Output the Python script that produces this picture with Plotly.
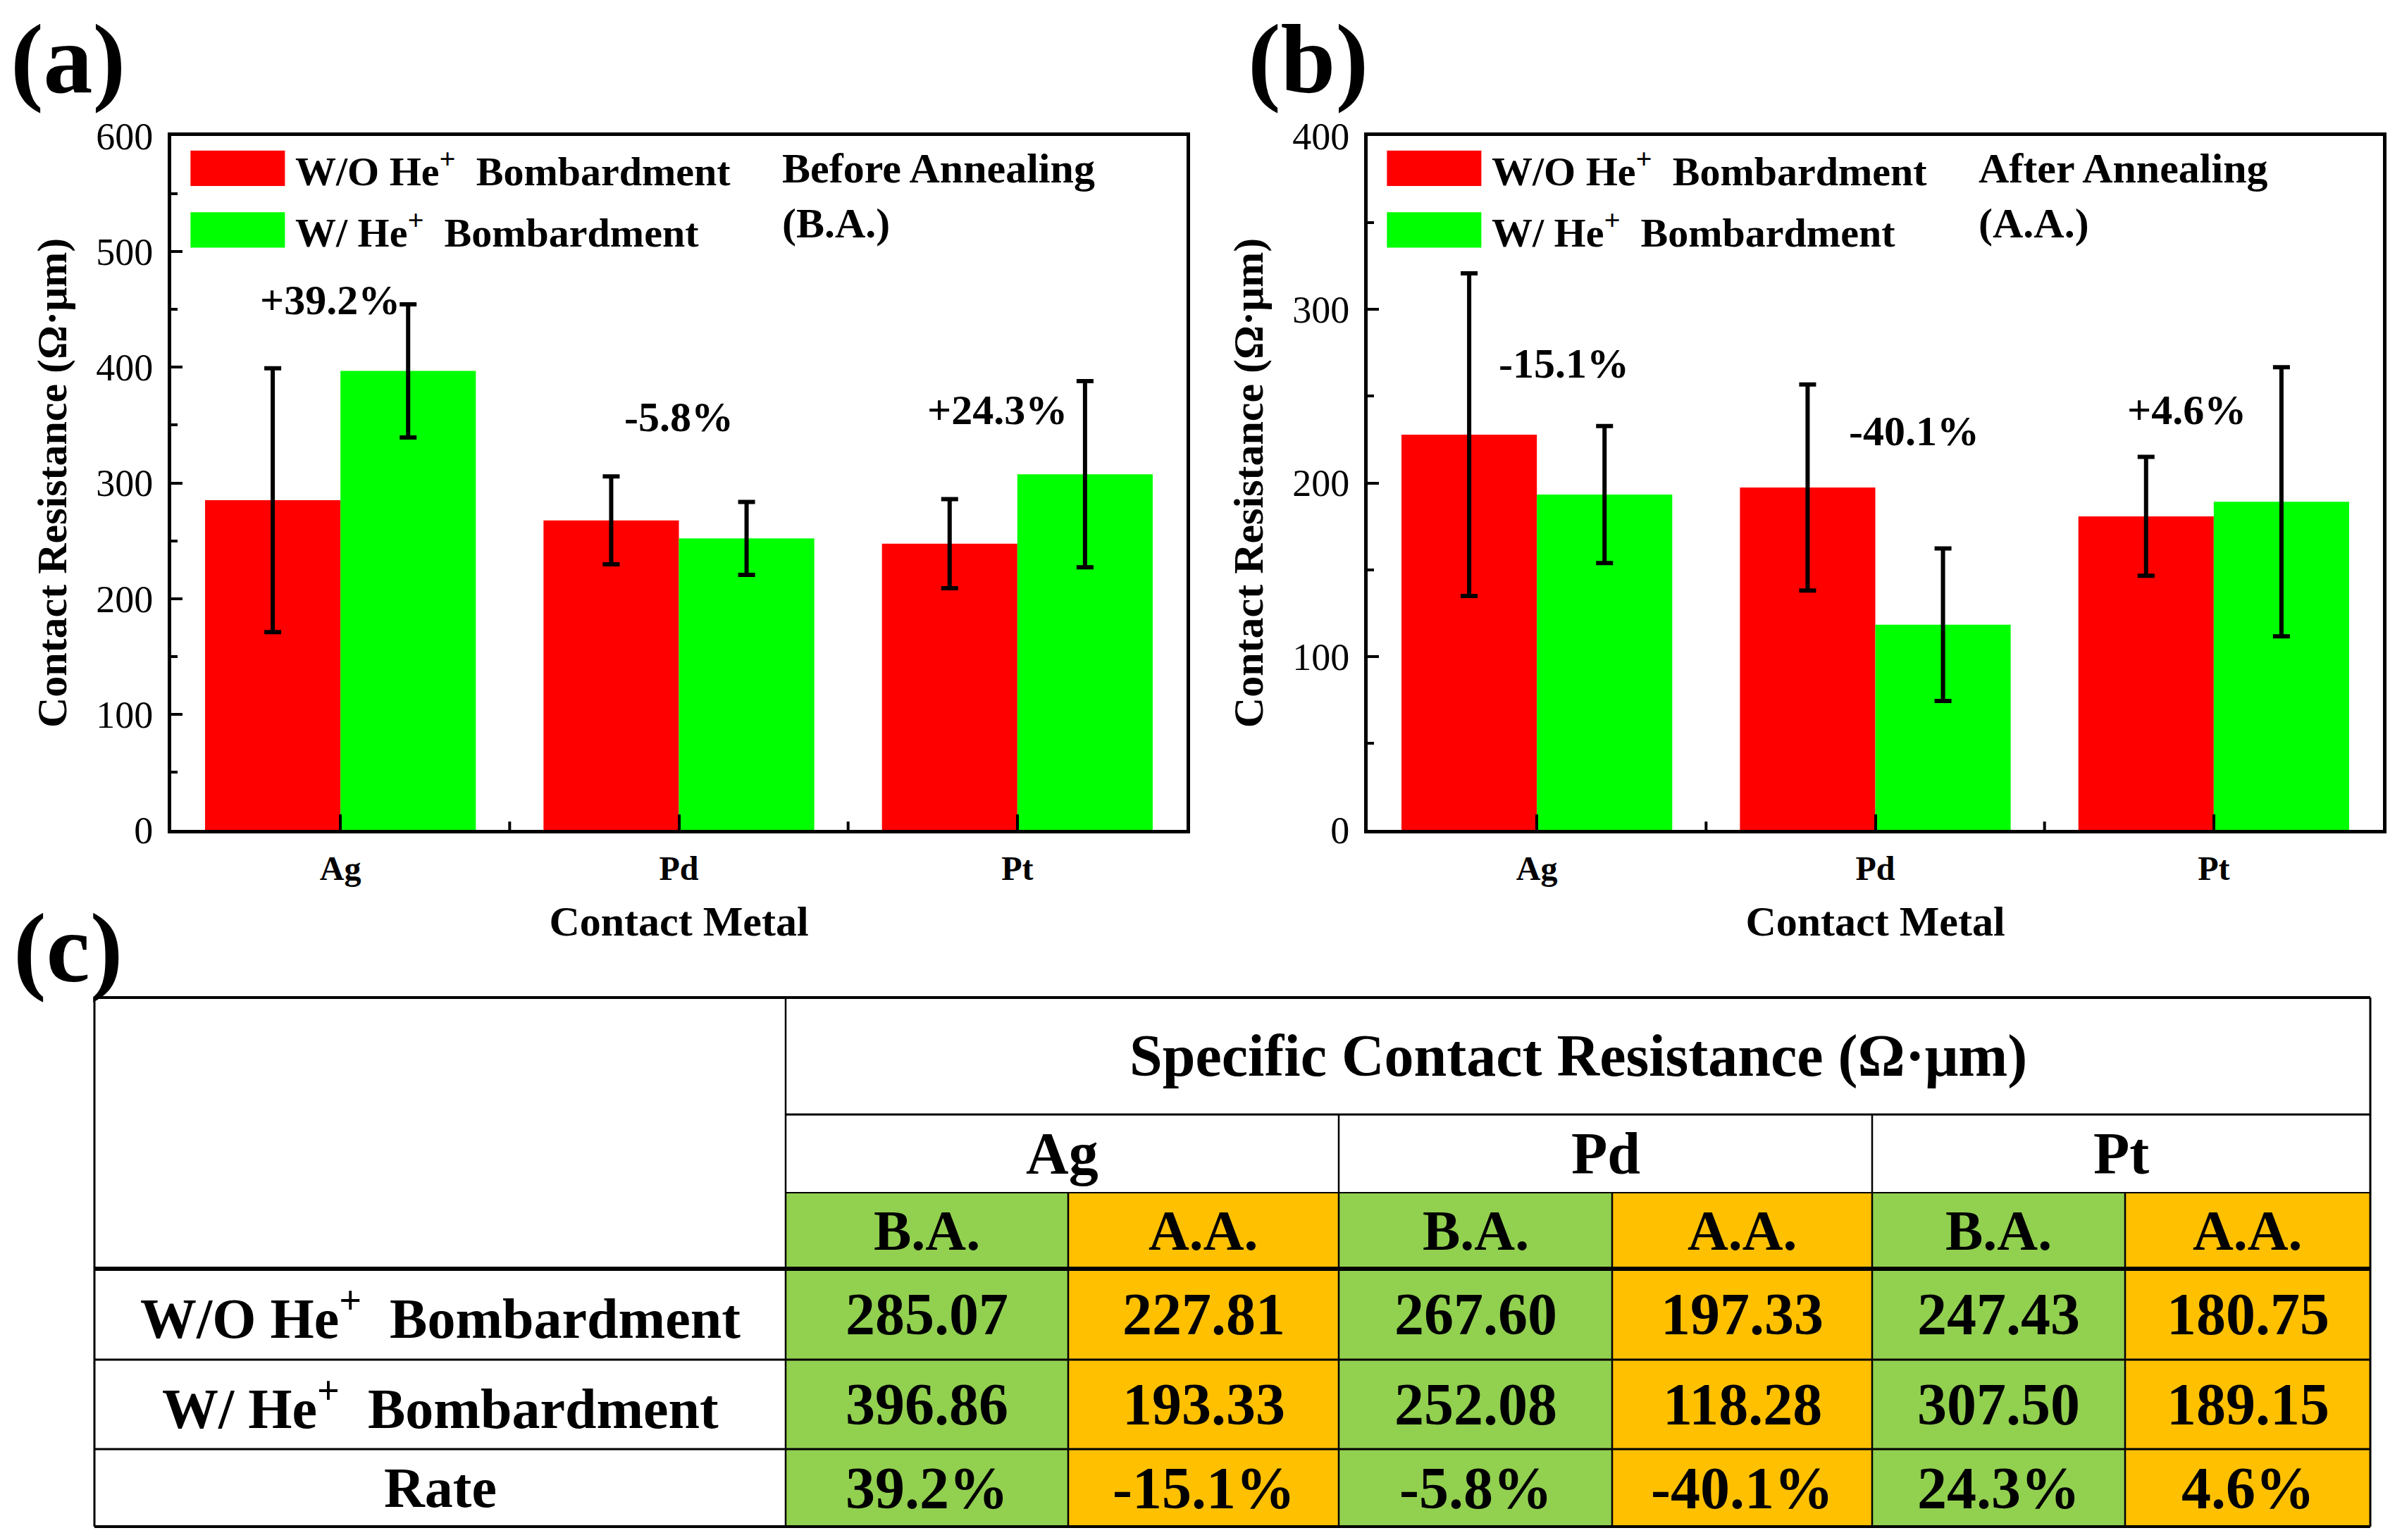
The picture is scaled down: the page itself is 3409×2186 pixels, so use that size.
import plotly.graph_objects as go

metals = ["Ag", "Pd", "Pt"]
ba_without = [285.07, 267.60, 247.43]
ba_with = [396.86, 252.08, 307.50]
aa_without = [227.81, 197.33, 180.75]
aa_with = [193.33, 118.28, 189.15]

# error bars (half-length, estimated)
ba_without_err = [114, 38, 38.5]
ba_with_err = [57.5, 31.5, 80.5]
aa_without_err = [93, 59.4, 34.3]
aa_with_err = [39.5, 44, 77.6]

series_wo = "W/O He<sup>+</sup>  Bombardment"
series_w = "W/ He<sup>+</sup>  Bombardment"

ba_rate = [(b - a) / a * 100 for a, b in zip(ba_without, ba_with)]
aa_rate = [(b - a) / a * 100 for a, b in zip(aa_without, aa_with)]

W, H = 3409, 2186
FONT = "Liberation Serif, Times New Roman, serif"
RED = "#FF0000"
GREEN = "#00FF00"
CELL_GREEN = "#92D050"
CELL_ORANGE = "#FFC000"


def px(x):
    return x / W


def py(y):
    return 1 - y / H


def bold(size):
    return dict(family=FONT, size=size, color="black", weight="bold")


fig = go.Figure()

# ---- bar panels ----
panels = [
    ("x", "y", ba_without, ba_without_err, ba_with, ba_with_err),
    ("x2", "y2", aa_without, aa_without_err, aa_with, aa_with_err),
]
for xa, ya, wo, wo_err, w, w_err in panels:
    fig.add_trace(go.Bar(
        x=metals, y=wo, name=series_wo, xaxis=xa, yaxis=ya,
        marker=dict(color=RED, line=dict(width=0)),
        error_y=dict(type="data", array=wo_err, color="black", thickness=6, width=12),
        showlegend=False,
    ))
    fig.add_trace(go.Bar(
        x=metals, y=w, name=series_w, xaxis=xa, yaxis=ya,
        marker=dict(color=GREEN, line=dict(width=0)),
        error_y=dict(type="data", array=w_err, color="black", thickness=6, width=12),
        showlegend=False,
    ))

xdom_a = [px(243), px(1684)]
xdom_b = [px(1941), px(3382)]
ydom = [py(1178), py(193)]

common_x = dict(
    showline=True, linewidth=5, linecolor="black", mirror=True,
    ticks="inside", ticklen=22, tickwidth=4, tickcolor="black",
    tickfont=dict(family=FONT, size=48, color="black", weight="bold"),
    ticklabelstandoff=8,
    showgrid=False, zeroline=False, range=[-0.5, 2.5], automargin=False,
    title=dict(text="Contact Metal", font=bold(60), standoff=30),
)
common_y = dict(
    showline=True, linewidth=5, linecolor="black", mirror=True,
    ticks="inside", ticklen=16, tickwidth=4, tickcolor="black",
    tickfont=dict(family=FONT, size=54, color="black"),
    ticklabelstandoff=10,
    showgrid=False, zeroline=False, dtick=100, automargin=False,
    minor=dict(dtick=50, ticks="inside", ticklen=9, tickwidth=4, tickcolor="black", showgrid=False),
    title=dict(text="Contact Resistance (Ω·μm)", font=bold(60), standoff=24),
)

fig.update_layout(
    width=W, height=H,
    margin=dict(l=0, r=0, t=0, b=0, pad=0),
    paper_bgcolor="white", plot_bgcolor="white",
    barmode="group", bargap=0.2, bargroupgap=0,
    showlegend=False,
    xaxis=dict(domain=xdom_a, anchor="y", **common_x),
    yaxis=dict(domain=ydom, anchor="x", range=[0, 600], **common_y),
    xaxis2=dict(domain=xdom_b, anchor="y2", **common_x),
    yaxis2=dict(domain=ydom, anchor="x2", range=[0, 400], **common_y),
    xaxis3=dict(domain=[px(120), px(3380)], anchor="y3", range=[120, 3380],
                visible=False, fixedrange=True, automargin=False),
    yaxis3=dict(domain=[py(2180), py(1405)], anchor="x3", range=[2180, 1405],
                visible=False, fixedrange=True, automargin=False),
    font=dict(family=FONT, color="black"),
)

shapes = []
annotations = []

# boundary ticks on the category axes
for xr, yr in [("x", "y"), ("x2", "y2")]:
    for b in [0.5, 1.5]:
        shapes.append(dict(type="line", xref=xr, yref=yr + " domain", x0=b, x1=b,
                           y0=0, y1=0.012, line=dict(color="black", width=4)))

# legend blocks and condition labels inside each panel
panel_info = [
    ("x", "y", "Before Annealing", "(B.A.)"),
    ("x2", "y2", "After Annealing", "(A.A.)"),
]
for xr, yr, cond, short in panel_info:
    xd, yd = xr + " domain", yr + " domain"
    shapes.append(dict(type="rect", xref=xd, yref=yd, x0=0.019, x1=0.112,
                       y0=0.928, y1=0.979, fillcolor=RED, line=dict(width=0)))
    shapes.append(dict(type="rect", xref=xd, yref=yd, x0=0.019, x1=0.112,
                       y0=0.839, y1=0.890, fillcolor=GREEN, line=dict(width=0)))
    annotations.append(dict(xref=xd, yref=yd, x=0.121, y=0.953, text=series_wo,
                            showarrow=False, xanchor="left", yanchor="middle", font=bold(58)))
    annotations.append(dict(xref=xd, yref=yd, x=0.121, y=0.864, text=series_w,
                            showarrow=False, xanchor="left", yanchor="middle", font=bold(58)))
    annotations.append(dict(xref=xd, yref=yd, x=0.600, y=0.953, text=cond,
                            showarrow=False, xanchor="left", yanchor="middle", font=bold(60)))
    annotations.append(dict(xref=xd, yref=yd, x=0.600, y=0.874, text=short,
                            showarrow=False, xanchor="left", yanchor="middle", font=bold(60)))

# rate labels above bar groups
ba_label_y = [458, 357, 363]
ba_label_dx = [-15, 0, -28]
aa_label_y = [269, 230, 242]
aa_label_dx = [38, 55, -38]
for xr, yr, rates, ly, dx in [("x", "y", ba_rate, ba_label_y, ba_label_dx),
                              ("x2", "y2", aa_rate, aa_label_y, aa_label_dx)]:
    for m, r, yy, d in zip(metals, rates, ly, dx):
        annotations.append(dict(xref=xr, yref=yr, x=m, y=yy, xshift=d,
                                text=f"{r:+.1f}%", showarrow=False,
                                xanchor="center", yanchor="middle", font=bold(60)))

# panel letters
for lbl, x, y in [("(a)", 96, 84), ("(b)", 1857, 84), ("(c)", 96, 1345)]:
    annotations.append(dict(xref="paper", yref="paper", x=px(x), y=py(y), text=lbl,
                            showarrow=False, xanchor="center", yanchor="middle",
                            font=bold(140)))

# ---- table (c) ----
col_x = [134, 1115, 1516, 1900, 2288, 2657, 3016, 3364]
row_y = [1416, 1582, 1693, 1801, 1930, 2057, 2167]
phases = ["B.A.", "A.A."]
fills = [CELL_GREEN, CELL_ORANGE]

table_rows = [
    (series_wo, [ba_without, aa_without], "{:.2f}"),
    (series_w, [ba_with, aa_with], "{:.2f}"),
    ("Rate", [ba_rate, aa_rate], "{:.1f}%"),
]

# coloured cells
for j in range(6):
    for i in range(2, 6):
        shapes.append(dict(type="rect", xref="x3", yref="y3",
                           x0=col_x[j + 1], x1=col_x[j + 2], y0=row_y[i], y1=row_y[i + 1],
                           fillcolor=fills[j % 2], line=dict(width=0), layer="below"))


def hline(y, x0, x1, w):
    shapes.append(dict(type="line", xref="x3", yref="y3", x0=x0, x1=x1, y0=y, y1=y,
                       line=dict(color="black", width=w)))


def vline(x, y0, y1, w):
    shapes.append(dict(type="line", xref="x3", yref="y3", x0=x, x1=x, y0=y0, y1=y1,
                       line=dict(color="black", width=w)))


hline(row_y[0], col_x[0], col_x[-1], 4)
hline(row_y[1], col_x[1], col_x[-1], 3)
hline(row_y[2], col_x[1], col_x[-1], 2)
hline(row_y[3], col_x[0], col_x[-1], 6)
hline(row_y[4], col_x[0], col_x[-1], 3)
hline(row_y[5], col_x[0], col_x[-1], 3)
hline(row_y[6], col_x[0], col_x[-1], 4)
vline(col_x[0], row_y[0], row_y[-1], 3)
vline(col_x[1], row_y[0], row_y[-1], 2.5)
vline(col_x[-1], row_y[0], row_y[-1], 3)
for k in [3, 5]:
    vline(col_x[k], row_y[1], row_y[-1], 2.5)
for k in [2, 4, 6]:
    vline(col_x[k], row_y[2], row_y[-1], 2.5)


def cell_text(x, y, text, size):
    annotations.append(dict(xref="x3", yref="y3", x=x, y=y, text=text, showarrow=False,
                            xanchor="center", yanchor="middle", font=bold(size)))


cell_text((col_x[1] + col_x[-1]) / 2, (row_y[0] + row_y[1]) / 2,
          "Specific Contact Resistance (Ω·μm)", 84)
for k, m in enumerate(metals):
    cell_text((col_x[1 + 2 * k] + col_x[3 + 2 * k]) / 2, (row_y[1] + row_y[2]) / 2, m, 84)
    for p in range(2):
        cell_text((col_x[1 + 2 * k + p] + col_x[2 + 2 * k + p]) / 2,
                  (row_y[2] + row_y[3]) / 2, phases[p], 80)

for i, (label, (ba_vals, aa_vals), fmt) in enumerate(table_rows):
    yc = (row_y[3 + i] + row_y[4 + i]) / 2
    cell_text((col_x[0] + col_x[1]) / 2, yc, label, 80)
    for k in range(3):
        for p, vals in enumerate([ba_vals, aa_vals]):
            cell_text((col_x[1 + 2 * k + p] + col_x[2 + 2 * k + p]) / 2, yc,
                      fmt.format(vals[k]), 84)

fig.update_layout(shapes=shapes, annotations=annotations)

# drop the page's default body margin so the figure sits flush in the window
fig.write_html("out.html", config={"displayModeBar": False},
               post_script="document.body.style.margin = '0';")
